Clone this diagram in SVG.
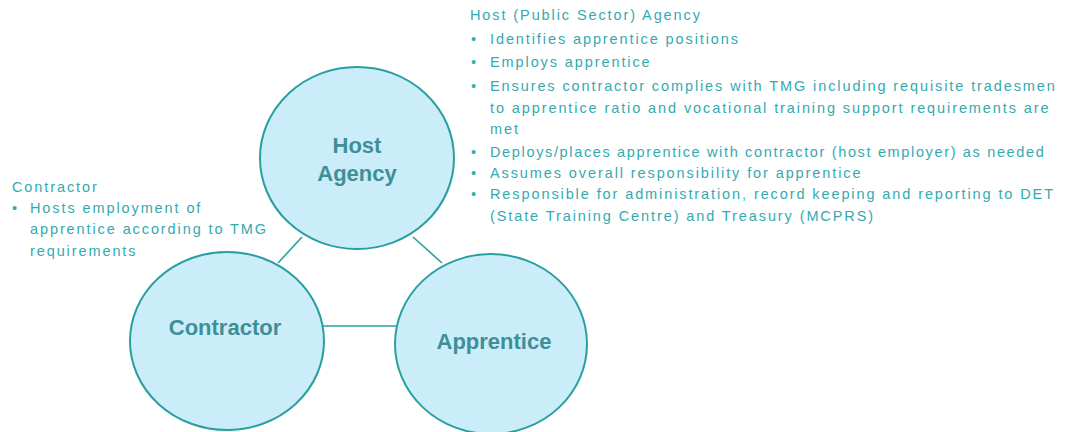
<svg xmlns="http://www.w3.org/2000/svg" width="1066" height="432" viewBox="0 0 1066 432">
  <style>
    .node { fill: #caedf9; stroke: #2a9fa0; stroke-width: 2; }
    .label { font-family: "Liberation Sans", Arial, sans-serif; font-size: 22px; font-weight: bold; fill: #3f8f96; text-anchor: middle; }
    .link { stroke: #2a9fa0; stroke-width: 1.6; fill: none; }
    .note { font-family: "Liberation Sans", Arial, sans-serif; font-size: 14.5px; letter-spacing: 1.9px; fill: #34aab0; }
    .tight { letter-spacing: 1.65px; }
  </style>
  <rect width="1066" height="432" fill="#ffffff"/>

  <!-- links between the three parties -->
  <g id="connectors">
    <line class="link" x1="278" y1="263" x2="302" y2="237"/>
    <line class="link" x1="413" y1="237" x2="442" y2="263"/>
    <line class="link" x1="323" y1="326" x2="396" y2="326"/>
  </g>

  <g id="host-agency">
    <ellipse class="node" cx="357" cy="158" rx="97" ry="91"/>
    <text class="label" x="357" y="153">Host</text>
    <text class="label" x="357" y="181">Agency</text>
  </g>

  <g id="contractor">
    <ellipse class="node" cx="227" cy="341" rx="97" ry="89"/>
    <text class="label" x="225" y="335">Contractor</text>
  </g>

  <g id="apprentice">
    <ellipse class="node" cx="491" cy="344" rx="96" ry="90"/>
    <text class="label" x="494" y="349">Apprentice</text>
  </g>

  <!-- responsibilities of the host agency -->
  <g id="host-notes" class="note">
    <text x="470" y="20">Host (Public Sector) Agency</text>
    <text x="471" y="44">•</text><text x="490" y="44">Identifies apprentice positions</text>
    <text x="471" y="67">•</text><text x="490" y="67">Employs apprentice</text>
    <text x="471" y="91">•</text><text x="490" y="91">Ensures contractor complies with TMG including requisite tradesmen</text>
    <text x="490" y="113">to apprentice ratio and vocational training support requirements are</text>
    <text x="490" y="134">met</text>
    <text x="471" y="157">•</text><text class="tight" x="490" y="157">Deploys/places apprentice with contractor (host employer) as needed</text>
    <text x="471" y="178">•</text><text x="490" y="178">Assumes overall responsibility for apprentice</text>
    <text x="471" y="199">•</text><text x="490" y="199">Responsible for administration, record keeping and reporting to DET</text>
    <text x="490" y="221">(State Training Centre) and Treasury (MCPRS)</text>
  </g>

  <!-- responsibilities of the contractor -->
  <g id="contractor-notes" class="note">
    <text x="12" y="192">Contractor</text>
    <text x="12" y="213">•</text><text x="30" y="213">Hosts employment of</text>
    <text x="30" y="234">apprentice according to TMG</text>
    <text x="30" y="256">requirements</text>
  </g>
</svg>
